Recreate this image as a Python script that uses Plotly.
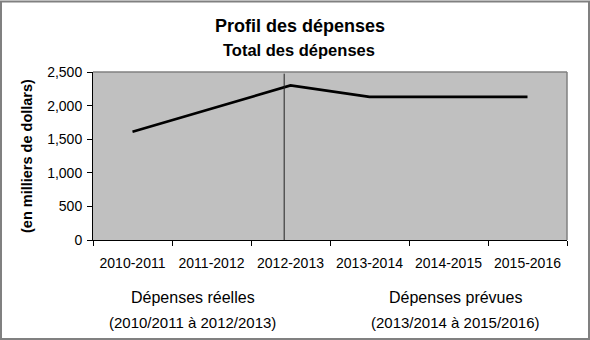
import plotly.graph_objects as go

# Spending profile data (thousands of dollars)
years = ["2010-2011", "2011-2012", "2012-2013", "2013-2014", "2014-2015", "2015-2016"]
spending = [1610, 1960, 2300, 2130, 2130, 2130]
y_ticks = [0, 500, 1000, 1500, 2000, 2500]

W, H = 590, 340
ML, MR, MT, MB = 93, 23, 72, 100
PW, PH = W - ML - MR, H - MT - MB
FONT = "Liberation Sans, Arial, sans-serif"


def px_x(x):
    return (x - ML) / PW


def px_y(y):
    return (H - MB - y) / PH


fig = go.Figure()
fig.add_trace(go.Scatter(
    x=years, y=spending, mode="lines",
    line=dict(color="black", width=2.6),
    hoverinfo="skip", showlegend=False,
))

fig.update_layout(
    width=W, height=H,
    margin=dict(l=ML, r=MR, t=MT, b=MB, pad=0),
    paper_bgcolor="white",
    plot_bgcolor="#C0C0C0",
    font=dict(family=FONT, color="black", size=14),
    showlegend=False,
)

fig.update_xaxes(
    type="category", range=[-0.5, 5.5], tickson="boundaries",
    ticks="outside", ticklen=5, tickcolor="black", tickwidth=1,
    showline=True, linecolor="black", linewidth=1,
    showgrid=False, zeroline=False,
    tickfont=dict(size=14), ticklabelstandoff=10,
)
fig.update_yaxes(
    range=[0, 2500], tickvals=y_ticks, tickformat=",",
    ticks="outside", ticklen=5, tickcolor="black", tickwidth=1,
    showline=True, linecolor="black", linewidth=1,
    showgrid=False, zeroline=False,
    tickfont=dict(size=14), ticklabelstandoff=2,
)

shapes = [
    # top and right edges of the plot area
    dict(type="line", xref="paper", yref="paper", x0=0, x1=1, y0=1, y1=1,
         line=dict(color="#808080", width=1.5)),
    dict(type="line", xref="paper", yref="paper", x0=1, x1=1, y0=0, y1=1,
         line=dict(color="#808080", width=1.5)),
    # separator between actual and planned spending
    dict(type="line", xref="x", yref="paper", x0=1.92, x1=1.92, y0=0, y1=0.99,
         line=dict(color="#222222", width=1)),
    # outer frame of the chart
    dict(type="rect", xref="paper", yref="paper",
         x0=px_x(1), x1=px_x(589), y0=px_y(339), y1=px_y(1.5),
         line=dict(color="#808080", width=2), fillcolor="rgba(0,0,0,0)", layer="above"),
]
fig.update_layout(shapes=shapes)

annotations = [
    dict(text="<b>Profil des dépenses</b>", x=px_x(299.5), y=px_y(25.5), size=18),
    dict(text="<b>Total des dépenses</b>", x=px_x(299), y=px_y(50), size=16.5),
    dict(text="Dépenses réelles", x=px_x(192.5), y=px_y(297.5), size=16),
    dict(text="(2010/2011 à 2012/2013)", x=px_x(192), y=px_y(322.5), size=15),
    dict(text="Dépenses prévues", x=px_x(455), y=px_y(297.5), size=16),
    dict(text="(2013/2014 à 2015/2016)", x=px_x(455), y=px_y(322.5), size=15),
]
for a in annotations:
    fig.add_annotation(
        text=a["text"], x=a["x"], y=a["y"], xref="paper", yref="paper",
        xanchor="center", yanchor="middle", showarrow=False,
        font=dict(family=FONT, size=a["size"], color="black"),
    )

fig.add_annotation(
    text="<b>(en milliers de dollars)</b>", x=px_x(27), y=px_y(156),
    xref="paper", yref="paper", xanchor="center", yanchor="middle",
    showarrow=False, textangle=-90,
    font=dict(family=FONT, size=14.5, color="black"),
)

fig.write_html("out.html")
